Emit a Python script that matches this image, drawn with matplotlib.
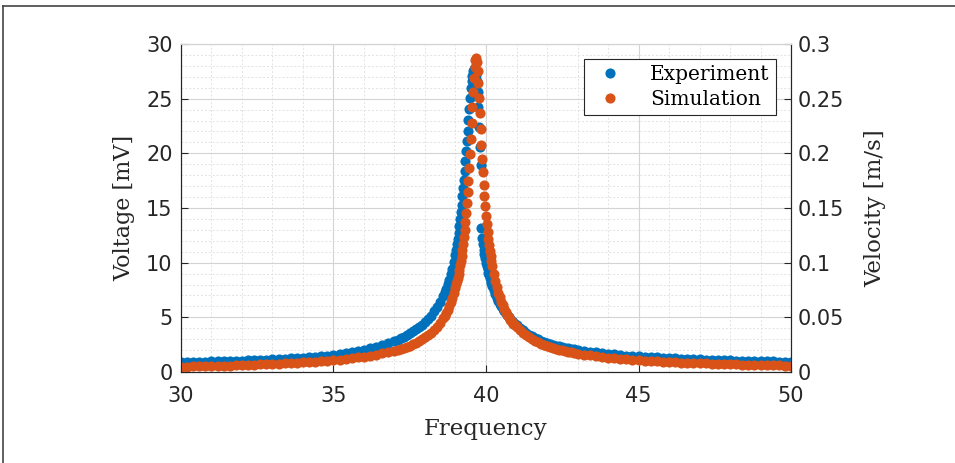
import matplotlib
matplotlib.use("Agg")
import matplotlib.pyplot as plt
from matplotlib.lines import Line2D
from matplotlib.ticker import MultipleLocator

#=== DATA ===#

# frequency sweep [Hz], shared by both series
freq = [
    30.0, 30.2, 30.4, 30.6, 30.8, 31.0, 31.2, 31.4, 31.6, 31.8, 32.0, 32.2,
    32.4, 32.6, 32.8, 33.0, 33.2, 33.4, 33.6, 33.8, 34.0, 34.2, 34.4, 34.6,
    34.8, 35.0, 35.2, 35.4, 35.6, 35.8, 36.0, 36.2, 36.4, 36.6, 36.8, 37.0,
    37.1, 37.2, 37.3, 37.4, 37.5, 37.6, 37.7, 37.8, 37.9, 38.0, 38.1, 38.2,
    38.3, 38.4, 38.5, 38.6,
    38.65, 38.7, 38.75, 38.8, 38.85, 38.9, 38.95, 39.0,
    39.025, 39.05, 39.075, 39.1, 39.125, 39.15, 39.175, 39.2, 39.225, 39.25,
    39.275, 39.3, 39.325, 39.35, 39.375, 39.4, 39.425, 39.45, 39.475, 39.5,
    39.525, 39.55, 39.575, 39.6, 39.625, 39.65, 39.675, 39.7, 39.725, 39.75,
    39.775, 39.8, 39.825, 39.85, 39.875, 39.9, 39.925, 39.95, 39.975, 40.0,
    40.025, 40.05, 40.075, 40.1, 40.125, 40.15, 40.175, 40.2,
    40.25, 40.3, 40.35, 40.4, 40.45, 40.5, 40.55, 40.6, 40.65, 40.7, 40.75,
    40.8, 40.85, 40.9, 40.95, 41.0,
    41.1, 41.2, 41.3, 41.4, 41.5, 41.6, 41.7, 41.8, 41.9, 42.0, 42.1, 42.2,
    42.3, 42.4, 42.5, 42.6, 42.7, 42.8, 42.9, 43.0,
    43.2, 43.4, 43.6, 43.8, 44.0, 44.2, 44.4, 44.6, 44.8, 45.0, 45.2, 45.4,
    45.6, 45.8, 46.0, 46.2, 46.4, 46.6, 46.8, 47.0, 47.2, 47.4, 47.6, 47.8,
    48.0, 48.2, 48.4, 48.6, 48.8, 49.0, 49.2, 49.4, 49.6, 49.8, 50.0,
]

# measured voltage [mV]
voltage_exp = [
    0.90, 0.92, 0.93, 0.94, 0.95, 0.97, 0.98, 1.00, 1.02, 1.03, 1.05, 1.07,
    1.09, 1.11, 1.13, 1.16, 1.18, 1.21, 1.24, 1.27, 1.30, 1.34, 1.39, 1.45,
    1.51, 1.58, 1.66, 1.74, 1.83, 1.93, 2.04, 2.17, 2.31, 2.47, 2.65, 2.86,
    2.97, 3.10, 3.23, 3.38, 3.54, 3.72, 3.92, 4.10, 4.31, 4.55, 4.83, 5.15,
    5.55, 5.95, 6.42, 6.97,
    7.28, 7.63, 8.02, 8.45, 8.92, 9.44, 10.02, 10.67,
    11.20, 11.70, 12.20, 12.75, 13.35, 13.95, 14.60, 15.25, 16.12, 16.84,
    17.60, 18.41, 19.27, 20.17, 21.11, 22.08, 23.07, 24.06, 25.03, 25.94,
    26.6, 27.1, 27.5, 27.7, 27.8, 27.6, 27.2, 26.6, 25.6, 24.2,
    22.4, 20.6, 18.9, 13.2, 12.3, 11.7, 11.2, 10.8, 10.4, 10.0,
    9.7, 9.4, 9.1, 8.85, 8.6, 8.35, 8.1, 7.9,
    7.5, 7.15, 6.8, 6.5, 6.25, 6.0, 5.8, 5.6, 5.4, 5.2, 5.02,
    4.85, 4.7, 4.55, 4.42, 4.3,
    4.03, 3.80, 3.60, 3.42, 3.26, 3.12, 2.99, 2.87, 2.77, 2.67, 2.58, 2.50,
    2.42, 2.35, 2.29, 2.23, 2.17, 2.12, 2.07, 2.03,
    1.95, 1.87, 1.80, 1.73, 1.67, 1.61, 1.56, 1.51, 1.47, 1.43, 1.39, 1.36,
    1.33, 1.30, 1.27, 1.24, 1.22, 1.20, 1.17, 1.15, 1.13, 1.11, 1.10, 1.08,
    1.06, 1.05, 1.03, 1.02, 1.01, 0.99, 0.98, 0.97, 0.96, 0.95, 0.94,
]

# simulated velocity [m/s]
velocity_sim = [
    0.00483, 0.00495, 0.00507, 0.00521, 0.00534, 0.00549, 0.00564, 0.00579,
    0.00596, 0.00613, 0.00631, 0.00650, 0.00671, 0.00692, 0.00714, 0.00738,
    0.00764, 0.00790, 0.00819, 0.00850, 0.00883, 0.00918, 0.00956, 0.00996,
    0.01040, 0.01088, 0.01140, 0.01197, 0.01260, 0.01329, 0.01406, 0.01491,
    0.01587, 0.01695, 0.01818, 0.01960,
    0.02037, 0.02122, 0.02214, 0.02315, 0.02424, 0.02544, 0.02676, 0.02815,
    0.02977, 0.03158, 0.03360, 0.03589, 0.03853, 0.04155, 0.04507, 0.04924,
    0.05160, 0.05421, 0.05707, 0.06025, 0.06378, 0.06775, 0.07220, 0.07726,
    0.08006, 0.08304, 0.08627, 0.08971, 0.09342, 0.09742, 0.1018, 0.1065,
    0.1116, 0.1172, 0.1233, 0.1300, 0.1374, 0.1455, 0.1543, 0.1642,
    0.1749, 0.1866, 0.1994, 0.2131, 0.2276, 0.2421, 0.2563, 0.2691,
    0.2792, 0.2854, 0.2869, 0.2835, 0.2756, 0.2643, 0.2509, 0.2365,
    0.2221, 0.2080, 0.1947, 0.1825, 0.1712, 0.1609, 0.1515, 0.1430,
    0.1353, 0.1283, 0.1218, 0.1160, 0.1106, 0.1057, 0.1011, 0.09692,
    0.08946, 0.08302, 0.07743, 0.07252, 0.06818, 0.06432, 0.06087, 0.05777,
    0.05496, 0.05241, 0.05010, 0.04797, 0.04602, 0.04422, 0.04255, 0.04101,
    0.03824, 0.03582, 0.03370, 0.03181, 0.03013, 0.02861, 0.02725, 0.02601,
    0.02488, 0.02385, 0.02290, 0.02203, 0.02122, 0.02047, 0.01977, 0.01912,
    0.01851, 0.01794, 0.01741, 0.01691,
    0.01601, 0.01519, 0.01445, 0.01378, 0.01317, 0.01261, 0.01211, 0.01164,
    0.01121, 0.01081, 0.01044, 0.01010, 0.00978, 0.00948, 0.00920, 0.00893,
    0.00869, 0.00845, 0.00823, 0.00802, 0.00782, 0.00764, 0.00746, 0.00729,
    0.00713, 0.00697, 0.00683, 0.00669, 0.00655, 0.00642, 0.00630, 0.00618,
    0.00607, 0.00596, 0.00585,
]

x_ticks = [30, 35, 40, 45, 50]
v_ticks = [0, 5, 10, 15, 20, 25, 30]
vel_ticks = [0, 0.05, 0.1, 0.15, 0.2, 0.25, 0.3]
vel_labels = ["0", "0.05", "0.1", "0.15", "0.2", "0.25", "0.3"]

#=== STYLE ===#

blue = "#0072BD"
orange = "#D95319"
serif = "DejaVu Serif"
tick_font = "DejaVu Sans"
ink = "#262626"

#=== PLOT ===#

fig = plt.figure(figsize=(9.55, 4.63), dpi=100)
ax = fig.add_axes([0.1895, 0.1965, 0.6388, 0.7085])
ax2 = ax.twinx()

ax.plot(freq, voltage_exp, "o", color=blue, ms=7.3, mew=0, label="Experiment")
ax2.plot(freq, velocity_sim, "o", color=orange, ms=7.3, mew=0, label="Simulation")

ax.set_xlim(30, 50)
ax.set_ylim(0, 30)
ax2.set_ylim(0, 0.3)

ax.set_xticks(x_ticks)
ax.set_yticks(v_ticks)
ax2.set_yticks(vel_ticks)
ax2.set_yticklabels(vel_labels)
ax.xaxis.set_minor_locator(MultipleLocator(1))
ax.yaxis.set_minor_locator(MultipleLocator(1))

ax.grid(True, which="major", color="#d4d4d4", lw=0.8)
ax.grid(True, which="minor", color="#e2e2e2", lw=0.7, ls=(0, (2, 2)))
ax.set_axisbelow(True)

for a in (ax, ax2):
    a.tick_params(which="major", direction="in", length=5, width=0.8,
                  labelsize=15, colors=ink)
    a.tick_params(which="minor", length=0)
    for lab in a.get_xticklabels() + a.get_yticklabels():
        lab.set_fontfamily(tick_font)
    for s in a.spines.values():
        s.set_color(ink)
        s.set_linewidth(0.8)
ax2.tick_params(axis="y", pad=5)
ax.tick_params(axis="y", pad=6)
ax.tick_params(axis="x", pad=10)
ax.spines["top"].set_color("#d4d4d4")
ax2.spines["top"].set_color("#d4d4d4")

ax.set_xlabel("Frequency", fontfamily=serif, fontsize=16.5, color=ink, labelpad=9)
ax.set_ylabel("Voltage [mV]", fontfamily=serif, fontsize=16, color=ink, labelpad=8)
ax2.set_ylabel("Velocity [m/s]", fontfamily=serif, fontsize=16.5, color=ink, labelpad=14)

h1, l1 = ax.get_legend_handles_labels()
h2, l2 = ax2.get_legend_handles_labels()
leg = ax2.legend(h1 + h2, l1 + l2, loc="upper right", bbox_to_anchor=(0.975, 0.954),
                 borderaxespad=0, fancybox=False, framealpha=1, edgecolor=ink,
                 prop={"family": serif, "size": 14.5}, numpoints=1,
                 handlelength=2.0, handletextpad=1.0, borderpad=0.3, labelspacing=0.3)
leg.get_frame().set_linewidth(0.8)

# thin frame around the figure (top and left edges, as in the screenshot)
fig.add_artist(Line2D([3 / 955, 1], [1 - 6 / 463, 1 - 6 / 463], transform=fig.transFigure,
                      color="#444444", lw=1.2))
fig.add_artist(Line2D([3 / 955, 3 / 955], [0, 1 - 6 / 463], transform=fig.transFigure,
                      color="#444444", lw=1.2))

fig.savefig("out.png", dpi=100)
